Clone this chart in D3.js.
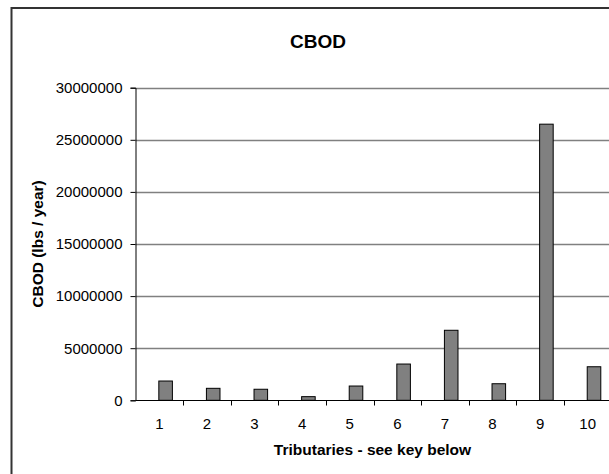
<!DOCTYPE html>
<html>
<head>
<meta charset="utf-8">
<script src="https://cdn.jsdelivr.net/npm/d3@7"></script>
<style>
  html, body { margin: 0; padding: 0; background: #fff; }
  svg { display: block; }
  text { font-family: "Liberation Sans", Arial, sans-serif; fill: #000; }
</style>
</head>
<body>
<svg id="chart" width="609" height="474"></svg>
<script>
// Tributary CBOD loads (lbs / year)
const categories = ["1", "2", "3", "4", "5", "6", "7", "8", "9", "10"];
const cbodValues = [1850000, 1150000, 1060000, 350000, 1370000, 3480000, 6720000, 1590000, 26500000, 3220000];
const yTicks = [0, 5000000, 10000000, 15000000, 20000000, 25000000, 30000000];
const titleText = "CBOD";
const yTitle = "CBOD (lbs / year)";
const xTitle = "Tributaries - see key below";

const svg = d3.select("#chart");

// Chart frame (only left and top edges fall inside the view)
svg.append("rect")
  .attr("x", 11.5).attr("y", 8)
  .attr("width", 640).attr("height", 520)
  .attr("fill", "#fff")
  .attr("stroke", "#333").attr("stroke-width", 2);

const plot = { left: 135.5, right: 611.5, top: 87.7, bottom: 400.3 };

const x = d3.scaleBand()
  .domain(categories)
  .range([plot.left, plot.right]);

const y = d3.scaleLinear()
  .domain([0, 30000000])
  .range([plot.bottom, plot.top]);

// Horizontal gridlines
svg.append("g")
  .selectAll("line")
  .data(yTicks.filter(d => d > 0))
  .join("line")
  .attr("x1", plot.left).attr("x2", plot.right)
  .attr("y1", d => Math.round(y(d)) + 0.5)
  .attr("y2", d => Math.round(y(d)) + 0.5)
  .attr("stroke", "#808080").attr("stroke-width", 1.3);

// Bars
const bw = x.bandwidth();
svg.append("g")
  .selectAll("rect")
  .data(categories.map((c, i) => ({ c, v: cbodValues[i] })))
  .join("rect")
  .attr("x", d => x(d.c) + bw * 0.49)
  .attr("width", bw * 0.285)
  .attr("y", d => y(d.v))
  .attr("height", d => y(0) - y(d.v))
  .attr("fill", "#808080")
  .attr("stroke", "#000").attr("stroke-width", 1);

// Y axis
const yAxis = d3.axisLeft(y)
  .tickValues(yTicks)
  .tickFormat(d3.format("d"))
  .tickSize(5)
  .tickPadding(8);
const gy = svg.append("g")
  .attr("transform", `translate(${plot.left},0)`)
  .call(yAxis);
gy.select(".domain").attr("stroke", "#000");
gy.selectAll(".tick line").attr("stroke", "#000");
gy.selectAll(".tick text")
  .attr("font-size", "15px")
  .attr("font-family", "Liberation Sans, Arial, sans-serif");

// X axis: ticks sit on the band boundaries, labels at band centres
const gx = svg.append("g")
  .attr("transform", `translate(0,${Math.round(plot.bottom) + 0.5})`);
gx.append("line")
  .attr("x1", plot.left).attr("x2", plot.right)
  .attr("stroke", "#000");
gx.selectAll("line.tk")
  .data(categories)
  .join("line")
  .attr("class", "tk")
  .attr("x1", d => Math.round(x(d) + bw) + 0.5)
  .attr("x2", d => Math.round(x(d) + bw) + 0.5)
  .attr("y1", 0).attr("y2", 5)
  .attr("stroke", "#000");
gx.selectAll("text")
  .data(categories)
  .join("text")
  .attr("x", d => x(d) + bw / 2)
  .attr("y", 28)
  .attr("text-anchor", "middle")
  .attr("font-size", "15px")
  .text(d => d);

// Titles
svg.append("text")
  .attr("x", 318).attr("y", 48)
  .attr("text-anchor", "middle")
  .attr("font-size", "19px").attr("font-weight", "bold")
  .text(titleText);

svg.append("text")
  .attr("transform", `translate(43,${(plot.top + plot.bottom) / 2}) rotate(-90)`)
  .attr("text-anchor", "middle")
  .attr("font-size", "15.5px").attr("font-weight", "bold")
  .text(yTitle);

svg.append("text")
  .attr("x", (plot.left + plot.right) / 2 - 1).attr("y", 455)
  .attr("text-anchor", "middle")
  .attr("font-size", "15.5px").attr("font-weight", "bold")
  .text(xTitle);
</script>
</body>
</html>
